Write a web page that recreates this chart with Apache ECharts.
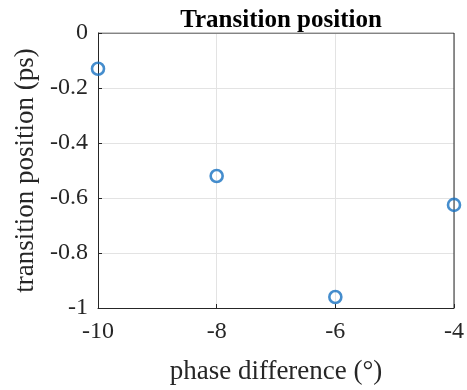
<!DOCTYPE html>
<html>
<head>
<meta charset="utf-8">
<script src="https://cdn.jsdelivr.net/npm/echarts@6/dist/echarts.min.js"></script>
<style>
  html, body { margin: 0; padding: 0; background: #fff; }
  #chart { width: 467px; height: 390px; }
</style>
</head>
<body>
<div id="chart"></div>
<script>
// Measured transition positions versus phase difference
const phaseDiff = [-10, -8, -6, -4];
const transitionPos = [-0.13, -0.52, -0.96, -0.625];
const xTicks = [-10, -8, -6, -4];
const yTicks = [-1, -0.8, -0.6, -0.4, -0.2, 0];

const serif = '"Liberation Serif", "DejaVu Serif", serif';
const axisColor = '#262626';

const chart = echarts.init(document.getElementById('chart'));
chart.setOption({
  animation: false,
  title: {
    text: 'Transition position',
    left: 276, top: 3, textAlign: 'center',
    textStyle: { fontFamily: serif, fontWeight: 'bold', fontSize: 25, color: '#000' }
  },
  grid: { left: 98, right: 10, top: 33, bottom: 78, containLabel: false },
  xAxis: {
    type: 'value', min: -10, max: -4, interval: 2,
    name: 'phase difference (°)', nameLocation: 'middle', nameGap: 50,
    nameTextStyle: { fontFamily: serif, fontSize: 27, color: axisColor },
    axisLine: { onZero: false, lineStyle: { color: axisColor, width: 1 } },
    axisTick: { inside: true, length: 4, lineStyle: { color: axisColor } },
    axisLabel: {
      fontFamily: serif, fontSize: 24, color: axisColor, margin: 12,
      formatter: v => xTicks.includes(v) ? String(v) : ''
    },
    splitLine: { show: true, lineStyle: { color: '#e3e3e3', width: 1 } }
  },
  yAxis: {
    type: 'value', min: -1, max: 0, interval: 0.2,
    name: 'transition position (ps)', nameLocation: 'middle', nameGap: 44,
    nameTextStyle: { fontFamily: serif, fontSize: 27, color: axisColor },
    axisLine: { onZero: false, lineStyle: { color: axisColor, width: 1 } },
    axisTick: { inside: true, length: 4, lineStyle: { color: axisColor } },
    axisLabel: {
      fontFamily: serif, fontSize: 24, color: axisColor, margin: 10,
      formatter: v => {
        const t = yTicks.find(y => Math.abs(y - v) < 1e-9);
        return t === undefined ? '' : String(Math.round(t * 10) / 10);
      }
    },
    splitLine: { show: true, lineStyle: { color: '#e3e3e3', width: 1 } }
  },
  series: [
    {
      type: 'scatter',
      data: phaseDiff.map((x, i) => [x, transitionPos[i]]),
      symbol: 'circle', symbolSize: 12,
      itemStyle: { color: 'transparent', borderColor: '#1670c0', borderWidth: 2.6 },
      clip: false, z: 5
    },
    {
      // right and top box edges
      type: 'line', data: [[-4, -1], [-4, 0], [-10, 0]],
      symbol: 'none', silent: true,
      lineStyle: { color: axisColor, width: 1 }, z: 4
    }
  ]
});
</script>
</body>
</html>
